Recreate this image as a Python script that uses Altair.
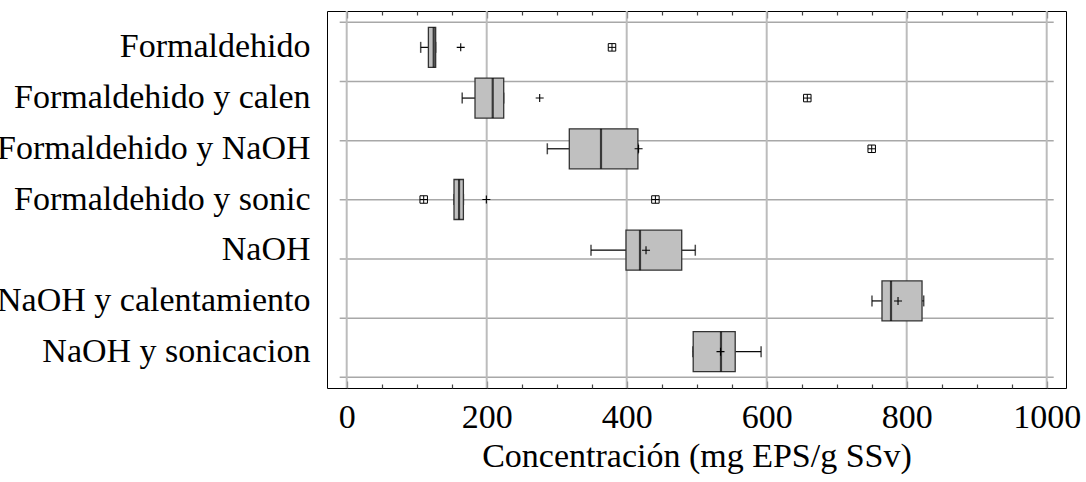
import altair as alt
import pandas as pd

cats = ["Formaldehido", "Formaldehido y calen", "Formaldehido y NaOH",
        "Formaldehido y sonic", "NaOH", "NaOH y calentamiento", "NaOH y sonicacion"]
whisker_lo = [105.7, 165.0, 286.6, 153.3, 349.0, 750.4, 494.5]
q1 = [116.7, 183.3, 318.0, 153.3, 399.0, 764.7, 495.0]
median = [124.3, 208.6, 363.3, 160.5, 419.0, 777.6, 534.7]
q3 = [127.1, 224.3, 416.0, 166.7, 478.6, 821.9, 555.0]
whisker_hi = [127.1, 224.3, 416.0, 166.7, 498.0, 824.3, 592.0]
mean = [162.9, 275.7, 417.0, 199.5, 427.6, 787.6, 534.0]
outlier_cat = ["Formaldehido", "Formaldehido y calen", "Formaldehido y NaOH",
               "Formaldehido y sonic", "Formaldehido y sonic"]
outlier_val = [379.0, 658.0, 750.0, 110.0, 441.0]
x_major = [0, 200, 400, 600, 800, 1000]
x_minor = [50, 100, 150, 250, 300, 350, 450, 500, 550, 650, 700, 750, 850, 900, 950]
hgrid_rows = [0, 1, 2, 3, 4, 5, 6]
hgrid_extent = [-10, 1010]

FONT = "'Liberation Serif', 'Times New Roman', Times, 'DejaVu Serif', serif"

box_df = pd.DataFrame({"cat": cats, "lo": whisker_lo, "q1": q1, "med": median,
                       "q3": q3, "hi": whisker_hi, "mean": mean})
caps_df = pd.DataFrame({"cat": cats + cats, "v": whisker_lo + whisker_hi})
out_df = pd.DataFrame({"cat": outlier_cat, "v": outlier_val})
vgrid_df = pd.DataFrame({"v": x_major})
hgrid_df = pd.DataFrame({"r": hgrid_rows, "a": [hgrid_extent[0]] * 7, "b": [hgrid_extent[1]] * 7})

xs = alt.Scale(domain=[-28.14, 1027.57], nice=False, zero=False)
ys = alt.Scale(type="band", domain=cats, paddingInner=0, paddingOuter=0.217)


def tick_axis(values, orient, size):
    return alt.Axis(values=values, orient=orient, offset=-size, tickSize=size,
                    labels=False, domain=False, grid=False, title=None,
                    tickColor="#444444", tickWidth=1.2)


label_axis = alt.Axis(values=x_major, format="d", ticks=False, domain=False, grid=False,
                      labelFont=FONT, labelFontSize=34, labelColor="black",
                      labelPadding=12, labelFlush=False, labelOverlap=False,
                      title="Concentración (mg EPS/g SSv)", titleFont=FONT,
                      titleFontSize=34, titleFontWeight="normal", titleColor="black",
                      titlePadding=5)

y_axis = alt.Axis(title=None, ticks=False, domain=False, grid=False,
                  labelFont=FONT, labelFontSize=34, labelColor="black",
                  labelPadding=17, labelLimit=1000)

hgrid = alt.Chart(hgrid_df).mark_rule(color="#a8a8a8", strokeWidth=1.5).encode(
    x=alt.X("a:Q", scale=xs, axis=None),
    x2="b:Q",
    y=alt.Y("r:Q", scale=alt.Scale(domain=[-0.191, 6.18], reverse=True, nice=False, zero=False), axis=None),
)

vgrid = alt.Chart(vgrid_df).mark_rule(color="#bcbcbc", strokeWidth=2).encode(
    x=alt.X("v:Q", scale=xs, axis=label_axis),
)

whisk_lo = alt.Chart(box_df).mark_rule(color="black", strokeWidth=1.2).encode(
    x=alt.X("lo:Q", scale=xs, axis=tick_axis(x_major, "bottom", 7)),
    x2="q1:Q",
    y=alt.Y("cat:N", scale=ys, axis=None),
)
whisk_hi = alt.Chart(box_df).mark_rule(color="black", strokeWidth=1.2).encode(
    x=alt.X("q3:Q", scale=xs, axis=tick_axis(x_minor, "bottom", 4)),
    x2="hi:Q",
    y=alt.Y("cat:N", scale=ys, axis=None),
)
caps = alt.Chart(caps_df).mark_tick(color="black", size=11, thickness=1.5).encode(
    x=alt.X("v:Q", scale=xs, axis=tick_axis(x_major, "top", 7)),
    y=alt.Y("cat:N", scale=ys, axis=None),
)
boxes = alt.Chart(box_df).mark_bar(size=40, color="#c0c0c0", stroke="#333333",
                                   strokeWidth=1.3).encode(
    x=alt.X("q1:Q", scale=xs, axis=tick_axis(x_minor, "top", 4)),
    x2="q3:Q",
    y=alt.Y("cat:N", scale=ys, axis=y_axis),
)
medians = alt.Chart(box_df).mark_tick(color="black", size=40, thickness=2.2).encode(
    x=alt.X("med:Q", scale=xs, axis=None),
    y=alt.Y("cat:N", scale=ys, axis=None),
)
means = alt.Chart(box_df).mark_point(shape="M-1,0L1,0M0,-1L0,1", size=64, filled=False,
                                     color="black", strokeWidth=1.1, opacity=1).encode(
    x=alt.X("mean:Q", scale=xs, axis=None),
    y=alt.Y("cat:N", scale=ys, axis=None),
)
outs = alt.Chart(out_df).mark_point(shape="M-1,-1L1,-1L1,1L-1,1ZM-1,0L1,0M0,-1L0,1",
                                    size=56, filled=False, color="black",
                                    strokeWidth=1, opacity=1).encode(
    x=alt.X("v:Q", scale=xs, axis=None),
    y=alt.Y("cat:N", scale=ys, axis=None),
)

chart = alt.layer(hgrid, vgrid, whisk_lo, whisk_hi, caps, boxes, medians, means, outs).resolve_scale(
    y="independent"
).resolve_axis(
    x="independent", y="independent"
).properties(
    width=739, height=377,
    autosize=alt.AutoSizeParams(type="none"),
    padding={"left": 327, "top": 11, "right": 20, "bottom": 94},
    background="white",
).configure_view(stroke="black", strokeWidth=1)

chart.save("out.html", embed_options={"renderer": "svg", "actions": False})
